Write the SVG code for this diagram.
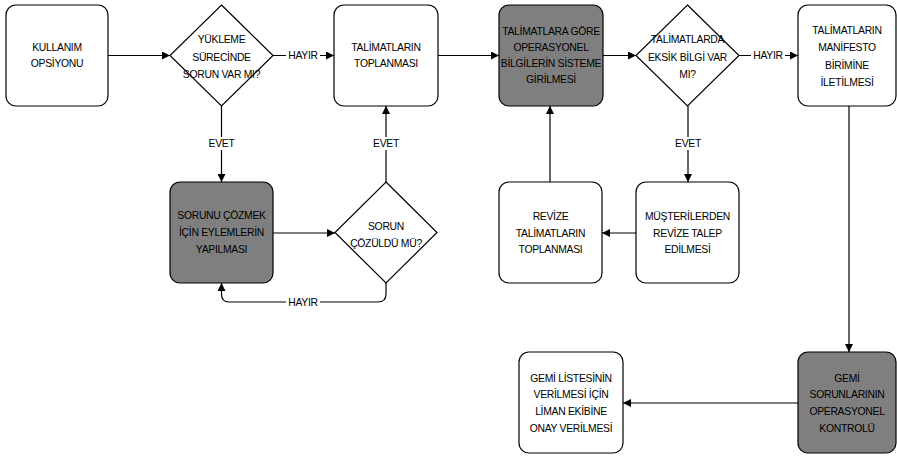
<svg xmlns="http://www.w3.org/2000/svg" width="897" height="456" viewBox="0 0 897 456">
<style>
.box{fill:#fff;stroke:#000;stroke-width:1.2}
.dark{fill:#7f7f7f;stroke:#000;stroke-width:1.2}
.dia{fill:#fff;stroke:#000;stroke-width:1.2}
text{font-family:"Liberation Sans",Arial,sans-serif;font-size:10.4px;letter-spacing:-0.3px;fill:#000;text-anchor:middle;dominant-baseline:central}
.ln{fill:none;stroke:#000;stroke-width:1.2;marker-end:url(#ah)}
.lb{fill:#fff}
</style>
<defs>
<marker id="ah" viewBox="0 0 10 10" refX="10" refY="5" markerWidth="8" markerHeight="8" markerUnits="userSpaceOnUse" orient="auto">
<path d="M0,0 L10,5 L0,10 z" fill="#000"/>
</marker>
</defs>
<g id="connectors">
<line class="ln" x1="108" y1="55.5" x2="170" y2="55.5"/>
<line class="ln" x1="273" y1="55.5" x2="334" y2="55.5"/>
<line class="ln" x1="438" y1="55.5" x2="499" y2="55.5"/>
<line class="ln" x1="603" y1="55.5" x2="636" y2="55.5"/>
<line class="ln" x1="739" y1="55.5" x2="798" y2="55.5"/>
<line class="ln" x1="221.5" y1="106" x2="221.5" y2="182"/>
<line class="ln" x1="386" y1="182" x2="386" y2="106"/>
<line class="ln" x1="273" y1="233" x2="335" y2="233"/>
<path class="ln" d="M386,283 V294 Q386,302 378,302 H229 Q221.5,302 221.5,294 V283"/>
<line class="ln" x1="550" y1="182" x2="550" y2="106"/>
<line class="ln" x1="688" y1="106" x2="688" y2="182"/>
<line class="ln" x1="636" y1="233" x2="602" y2="233"/>
<line class="ln" x1="849" y1="106" x2="849" y2="352"/>
<line class="ln" x1="798" y1="403" x2="623" y2="403"/>
<rect class="lb" x="286" y="49" width="34" height="13"/>
<text x="303" y="55.5">HAYIR</text>
<rect class="lb" x="751" y="49" width="34" height="13"/>
<text x="768" y="55.5">HAYIR</text>
<rect class="lb" x="208" y="137" width="27" height="13"/>
<text x="221.5" y="143">EVET</text>
<rect class="lb" x="373" y="137" width="27" height="13"/>
<text x="386" y="143">EVET</text>
<rect class="lb" x="675" y="137" width="27" height="13"/>
<text x="688" y="143">EVET</text>
<rect class="lb" x="286" y="296" width="34" height="13"/>
<text x="303" y="302">HAYIR</text>
</g>
<g id="n1"><rect class="box" x="6" y="5" width="102" height="101" rx="10"/>
<text x="57" y="47">KULLANIM</text><text x="57" y="63">OPSİYONU</text></g>
<g id="d1"><path class="dia" d="M221.5,5 L273,55.5 L221.5,106 L170,55.5 Z"/>
<text x="221.5" y="39">YÜKLEME</text><text x="221.5" y="57">SÜRECİNDE</text><text x="221.5" y="74">SORUN VAR MI?</text></g>
<g id="n2"><rect class="box" x="334" y="5" width="104" height="101" rx="10"/>
<text x="386" y="47">TALİMATLARIN</text><text x="386" y="63">TOPLANMASI</text></g>
<g id="n3"><rect class="dark" x="499" y="5" width="104" height="101" rx="10"/>
<text x="551" y="31.5">TALİMATLARA GÖRE</text><text x="551" y="47.5">OPERASYONEL</text><text x="551" y="63.5">BİLGİLERİN SİSTEME</text><text x="551" y="79.5">GİRİLMESİ</text></g>
<g id="d2"><path class="dia" d="M687.5,5 L739,55.5 L687.5,106 L636,55.5 Z"/>
<text x="687.5" y="39">TALİMATLARDA</text><text x="687.5" y="57">EKSİK BİLGİ VAR</text><text x="687.5" y="74">MI?</text></g>
<g id="n4"><rect class="box" x="798" y="5" width="98" height="101" rx="10"/>
<text x="847" y="30">TALİMATLARIN</text><text x="847" y="47">MANİFESTO</text><text x="847" y="65">BİRİMİNE</text><text x="847" y="82">İLETİLMESİ</text></g>
<g id="n5"><rect class="dark" x="170" y="182" width="103" height="101" rx="10"/>
<text x="221.5" y="215">SORUNU ÇÖZMEK</text><text x="221.5" y="232">İÇİN EYLEMLERİN</text><text x="221.5" y="249">YAPILMASI</text></g>
<g id="d3"><path class="dia" d="M386,182 L437,232.5 L386,283 L335,232.5 Z"/>
<text x="386" y="226">SORUN</text><text x="386" y="243">ÇÖZÜLDÜ MÜ?</text></g>
<g id="n6"><rect class="box" x="499" y="182" width="103" height="101" rx="10"/>
<text x="550.5" y="216">REVİZE</text><text x="550.5" y="233">TALİMATLARIN</text><text x="550.5" y="249">TOPLANMASI</text></g>
<g id="n7"><rect class="box" x="636" y="182" width="103" height="101" rx="10"/>
<text x="687.5" y="216">MÜŞTERİLERDEN</text><text x="687.5" y="233">REVİZE TALEP</text><text x="687.5" y="249">EDİLMESİ</text></g>
<g id="n8"><rect class="box" x="519" y="352" width="104" height="101" rx="10"/>
<text x="571" y="378">GEMİ LİSTESİNİN</text><text x="571" y="394">VERİLMESİ İÇİN</text><text x="571" y="411">LİMAN EKİBİNE</text><text x="571" y="428">ONAY VERİLMESİ</text></g>
<g id="n9"><rect class="dark" x="798" y="352" width="98" height="101" rx="10"/>
<text x="847" y="378">GEMİ</text><text x="847" y="394">SORUNLARININ</text><text x="847" y="411">OPERASYONEL</text><text x="847" y="428">KONTROLÜ</text></g>
</svg>
